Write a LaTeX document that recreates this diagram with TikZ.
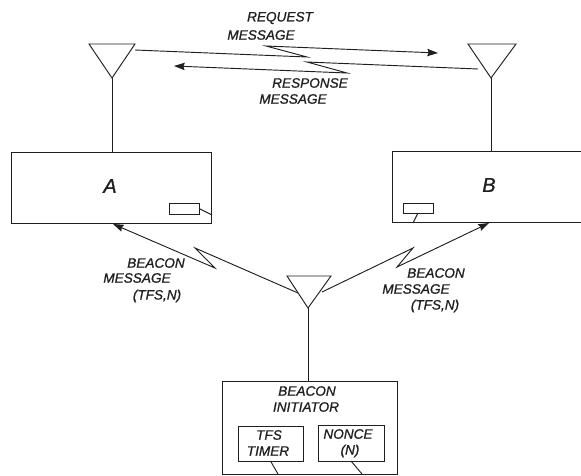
\documentclass[tikz,border=0pt]{standalone}
\usepackage{fontspec}
\setmainfont{Liberation Sans}[ItalicFeatures={FakeBold=1}]
\usetikzlibrary{arrows.meta,shapes.geometric}
\definecolor{ink}{gray}{0.12}
\tikzset{
  x=0.75pt,y=-0.75pt,
  line/.style={draw=ink,line width=0.7pt,line join=miter},
  msg/.style={line,-{Stealth[length=8pt,width=5.5pt,inset=1pt]}},
  box/.style={draw=ink,line width=0.7pt,rectangle,inner sep=0pt,outer sep=0pt},
  lab/.style={inner sep=0pt,outer sep=0pt,text=ink,font=\fontsize{10.2}{12}\selectfont\itshape,anchor=center},
  big/.style={lab,font=\fontsize{15}{18}\selectfont\itshape},
}
\begin{document}
\begin{tikzpicture}
\clip (0,0) rectangle (581,475);
% boxes
\node[box,minimum width=150pt,minimum height=53.25pt] (boxA) at (111,187.5) {};
\node[box,minimum width=144pt,minimum height=53.25pt] (boxB) at (488,186.5) {};
\node[box,minimum width=131.25pt,minimum height=69.75pt] (boxC) at (309.5,427.5) {};
\node[box,minimum width=22.5pt,minimum height=8.25pt] (smallA) at (184,208.5) {};
\node[box,minimum width=22.5pt,minimum height=7.5pt] (smallB) at (418,208) {};
\node[box,minimum width=48.75pt,minimum height=26.25pt] (tfs) at (270.5,443.5) {};
\node[box,minimum width=49.5pt,minimum height=27pt] (nonce) at (351,443) {};
% antennas
\coordinate (aL) at (89,44); \coordinate (aR) at (135,44); \coordinate (aT) at (112,78);
\coordinate (bL) at (468,44); \coordinate (bR) at (516,44); \coordinate (bT) at (491,78);
\coordinate (cL) at (287,276); \coordinate (cR) at (331,276); \coordinate (cT) at (308,308);
\draw[line] (aL) -- (aR) -- (aT) -- cycle;
\draw[line] (bL) -- (bR) -- (bT) -- cycle;
\draw[line] (cL) -- (cR) -- (cT) -- cycle;
\draw[line] (aT) -- (aT |- boxA.north);
\draw[line] (bT) -- (bT |- boxB.north);
\draw[line] (cT) -- (cT |- boxC.north);
% small box leads
\coordinate (leadA) at (212,215); \coordinate (leadB) at (413,223);
\coordinate (leadT) at (278,474); \coordinate (leadN) at (362,474);
\draw[line] (smallA.east) -- (leadA);
\draw[line] (smallB.south) -- (leadB);
\draw[line] (tfs.south) -- (leadT);
\draw[line] (nonce.south) -- (leadN);
% request / response
\coordinate (rq0) at (135,50); \coordinate (rq1) at (307,57); \coordinate (rq2) at (266,46); \coordinate (rq3) at (438,53);
\coordinate (rs0) at (478,69); \coordinate (rs1) at (307,62); \coordinate (rs2) at (347,73); \coordinate (rs3) at (174,66);
\draw[msg] (rq0) -- (rq1) -- (rq2) -- (rq3);
\draw[msg] (rs0) -- (rs1) -- (rs2) -- (rs3);
% beacon messages
\coordinate (bl0) at (298,293); \coordinate (bl1) at (195,248); \coordinate (bl2) at (215,268); \coordinate (bl3) at (113,224);
\coordinate (br0) at (322,292); \coordinate (br1) at (413,248); \coordinate (br2) at (397,267); \coordinate (br3) at (489,223);
\draw[msg] (bl0) -- (bl1) -- (bl2) -- (bl3);
\draw[msg] (br0) -- (br1) -- (br2) -- (br3);
% labels
\node[lab] (t1) at (280,18) {REQUEST};
\node[lab] (t2) at (261,35) {MESSAGE};
\node[lab] (t3) at (310,83) {RESPONSE};
\node[lab] (t4) at (293,99) {MESSAGE};
\node[big] (tA) at (110,186) {A};
\node[big] (tB) at (489,185) {B};
\node[lab] (t5) at (156,263) {BEACON};
\node[lab] (t6) at (137,278) {MESSAGE};
\node[lab] (t7) at (157,296) {(TFS,N)};
\node[lab] (t8) at (436,273) {BEACON};
\node[lab] (t9) at (416,289) {MESSAGE};
\node[lab] (t10) at (435,306) {(TFS,N)};
\node[lab] (t11) at (307,391) {BEACON};
\node[lab] (t12) at (306,407) {INITIATOR};
\node[lab] (t13) at (269,435) {TFS};
\node[lab] (t14) at (268,451) {TIMER};
\node[lab] (t15) at (348,434) {NONCE};
\node[lab] (t16) at (350,451) {(N)};
\end{tikzpicture}
\end{document}
